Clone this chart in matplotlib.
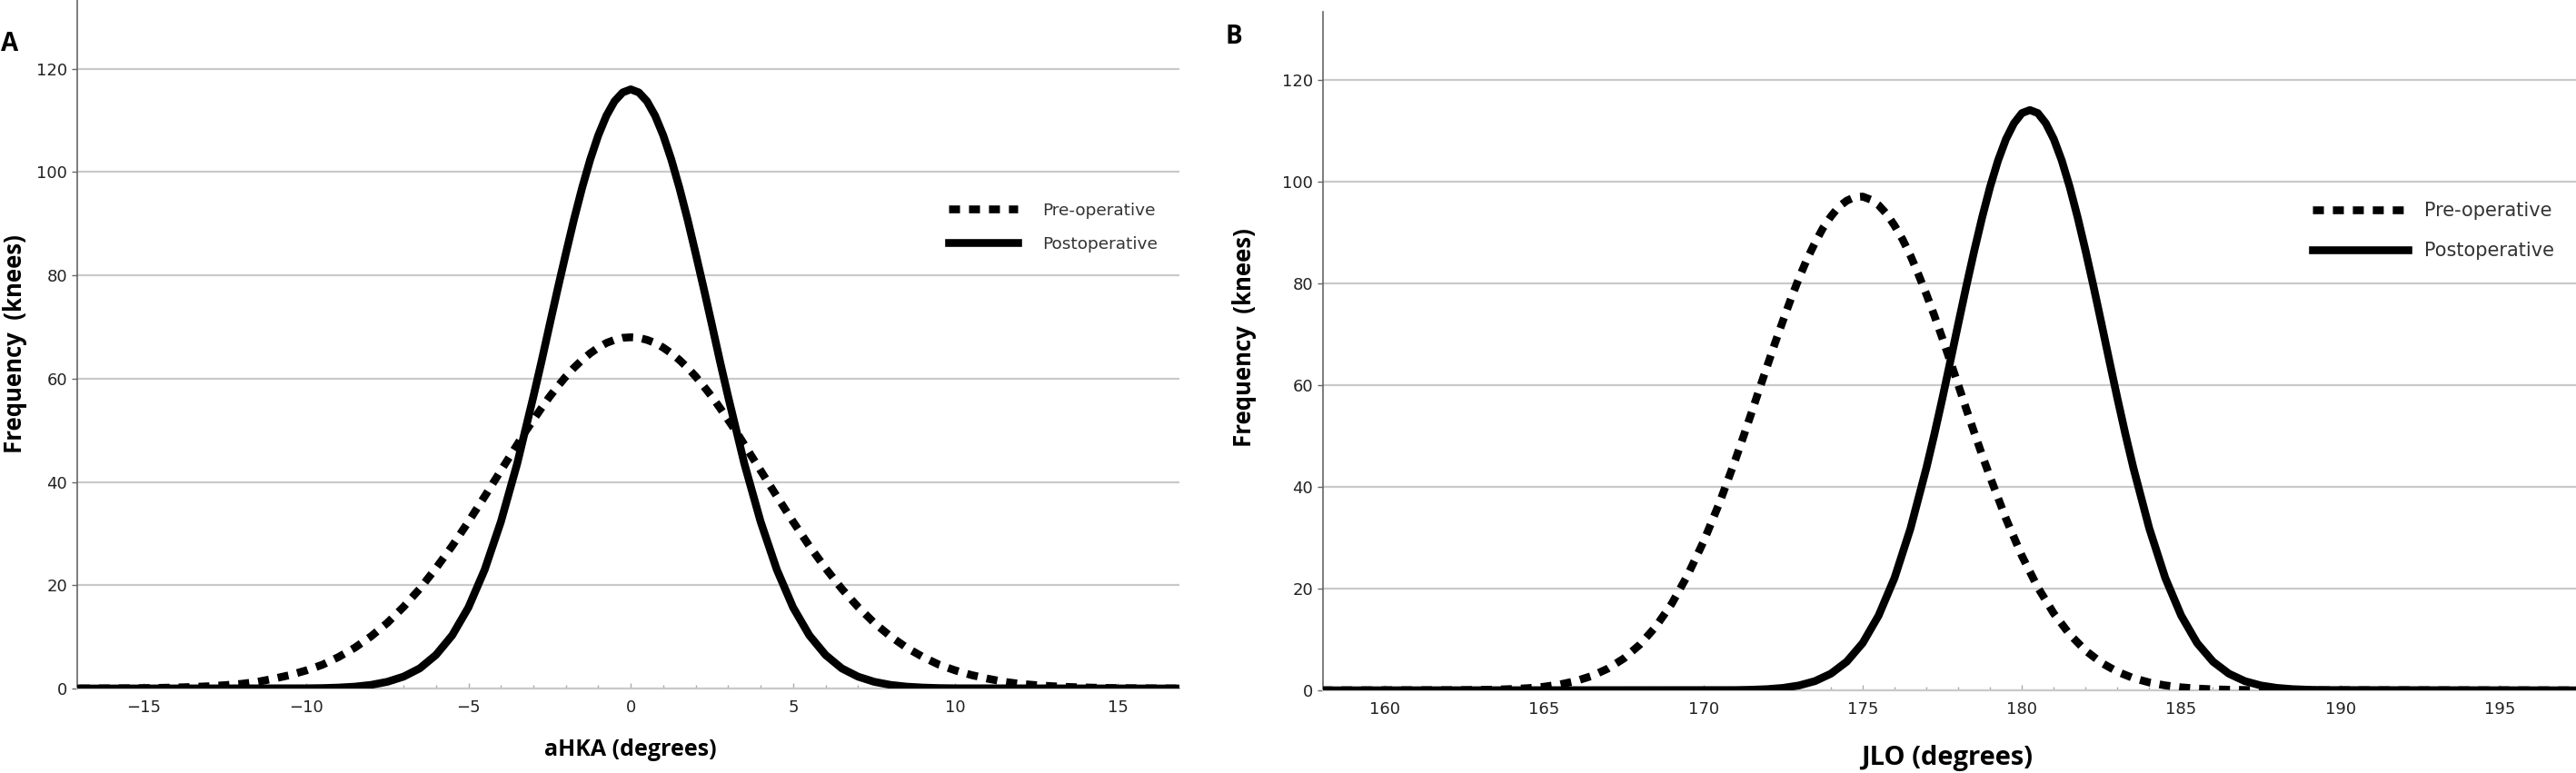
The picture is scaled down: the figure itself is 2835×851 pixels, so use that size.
import numpy as np
import matplotlib
matplotlib.use("Agg")
import matplotlib.pyplot as plt

# ---- panel A: aHKA (degrees), normal curves
# finer steps where the curves bend most
ahka_pre_x = np.r_[np.arange(-17, -4, 0.5), np.arange(-4, 4.01, 0.25), np.arange(4.5, 17.01, 0.5)]
ahka_pre = [0.01, 0.02, 0.03, 0.05, 0.08, 0.13, 0.2, 0.3, 0.44, 0.65, 0.9, 1.3, 1.9,
            2.6, 3.5, 4.6, 6.1, 7.9, 10.1, 12.7, 15.8, 19.3, 23.3, 27.6, 32.3, 37.2,
            42.2, 44.7, 47.2, 49.7, 52.0, 54.3, 56.5, 58.5, 60.4, 62.1, 63.6, 64.9, 66.0,
            66.9, 67.5, 67.9, 68.0, 67.9, 67.5, 66.9, 66.0, 64.9, 63.6, 62.1, 60.4, 58.5,
            56.5, 54.3, 52.0, 49.7, 47.2, 44.7, 42.2,
            37.2, 32.3, 27.6, 23.3, 19.3, 15.8, 12.7, 10.1, 7.9, 6.1, 4.6, 3.5, 2.6,
            1.9, 1.3, 0.9, 0.65, 0.44, 0.3, 0.2, 0.13, 0.08, 0.05, 0.03, 0.02, 0.01]

ahka_post_x = np.r_[-17, np.arange(-10, -3, 0.5), np.arange(-3, 3.01, 0.25), np.arange(3.5, 10.01, 0.5), 17]
ahka_post = [0,
             0.04, 0.08, 0.18, 0.36, 0.7, 1.3, 2.3, 3.9, 6.5, 10.3, 15.7, 23.0, 32.3, 43.5,
             56.5, 63.3, 70.4, 77.4, 84.2, 90.8, 96.9, 102.4, 107.1, 110.9, 113.7, 115.4,
             116.0, 115.4, 113.7, 110.9, 107.1, 102.4, 96.9, 90.8, 84.2, 77.4, 70.4, 63.3, 56.5,
             43.5, 32.3, 23.0, 15.7, 10.3, 6.5, 3.9, 2.3, 1.3, 0.7, 0.36, 0.18, 0.08, 0.04,
             0]

# ---- panel B: JLO (degrees)
jlo_pre_x = np.r_[158, np.arange(162, 171, 0.5), np.arange(171, 179.01, 0.25), np.arange(179.5, 188.01, 0.5), 197.5]
jlo_pre = [0,
           0.03, 0.05, 0.09, 0.15, 0.26, 0.43, 0.72, 1.17, 1.85, 2.84, 4.28, 6.27, 8.98,
           12.5, 17.0, 22.6, 29.2, 36.8,
           45.3, 49.8, 54.4, 59.1, 63.7, 68.3, 72.7, 77.0, 81.0, 84.7, 87.9, 90.8, 93.1,
           95.0, 96.2, 96.9, 97.0, 96.4, 95.3, 93.6, 91.3, 88.6, 85.4, 81.7, 77.8, 73.6,
           69.2, 64.6, 60.0, 55.3, 50.7, 46.2, 41.9,
           33.7, 26.4, 20.2, 15.1, 11.0, 7.8, 5.4, 3.65, 2.4, 1.55, 0.97, 0.59, 0.35,
           0.2, 0.12, 0.07, 0.04, 0.02,
           0]

jlo_post_x = np.r_[158, np.arange(171, 177, 0.5), np.arange(177, 183.51, 0.25), np.arange(184, 189.51, 0.5), 197.5]
jlo_post = [0,
            0.05, 0.11, 0.23, 0.48, 0.96, 1.81, 3.27, 5.64, 9.3, 14.7, 22.1, 31.8,
            43.7, 50.3, 57.3, 64.6, 72.0, 79.3, 86.3, 92.9, 98.9, 104.1, 108.3, 111.4,
            113.4, 114.0, 113.4, 111.4, 108.3, 104.1, 98.9, 92.9, 86.3, 79.3, 72.0, 64.6,
            57.3, 50.3, 43.7,
            31.8, 22.1, 14.7, 9.3, 5.64, 3.27, 1.81, 0.96, 0.48, 0.23, 0.11, 0.05,
            0]

series_names = ['Pre-operative', 'Postoperative']
y_ticks = [0, 20, 40, 60, 80, 100, 120]
ahka_ticks = [-15, -10, -5, 0, 5, 10, 15]
jlo_ticks = [160, 165, 170, 175, 180, 185, 190, 195]

W, H = 2835, 851
fig = plt.figure(figsize=(W / 100, H / 100), dpi=100)

lw = 6.2
dotted = (0, (1.4, 1.15))
grid_c = '#c9c9c9'


def panel(rect, xs, ys, xticks, xlim, xlabel, xlabel_size, letter, letter_xy,
          leg_anchor, leg_size, leg_hl, leg_pad, leg_space, ylab_xy, xlab_xy):
    ax = fig.add_axes(rect)
    ax.plot(xs[0], ys[0], color='black', lw=lw, ls=dotted, dash_capstyle='butt',
            dash_joinstyle='round', label=series_names[0], zorder=3)
    ax.plot(xs[1], ys[1], color='black', lw=lw, solid_joinstyle='round',
            label=series_names[1], zorder=3)
    ax.set_xlim(*xlim)
    ax.set_ylim(0, 133.3)
    ax.set_yticks(y_ticks)
    ax.set_xticks(xticks)
    ax.set_xticks(np.arange(np.ceil(xlim[0]), xlim[1], 1), minor=True)
    ax.grid(axis='y', color=grid_c, lw=1.6, zorder=0)
    ax.set_axisbelow(True)
    for s in ['top', 'right']:
        ax.spines[s].set_visible(False)
    ax.spines['left'].set_color('#666666')
    ax.spines['left'].set_linewidth(1.2)
    ax.spines['bottom'].set_color(grid_c)
    ax.spines['bottom'].set_linewidth(1.6)
    ax.tick_params(axis='y', length=4, width=1, color='#666666', labelsize=13,
                   labelcolor='#222222', pad=4)
    ax.tick_params(axis='x', which='major', length=4, width=1, color='#aaaaaa',
                   labelsize=13, labelcolor='#222222', pad=9, direction='in')
    ax.tick_params(axis='x', which='minor', length=3, width=1, color='#aaaaaa',
                   direction='in')
    ax.set_ylabel('Frequency  (knees)', fontsize=18.5, fontweight='bold',
                  family='Open Sans')
    ax.yaxis.set_label_coords(*ylab_xy)
    ax.set_xlabel(xlabel, fontsize=xlabel_size, fontweight='bold', family='Open Sans')
    ax.xaxis.set_label_coords(*xlab_xy)
    fig.text(letter_xy[0], letter_xy[1], letter, fontsize=20, fontweight='bold',
             family='Open Sans', ha='center', va='center')
    leg = ax.legend(loc='center left', bbox_to_anchor=leg_anchor, frameon=False,
                    fontsize=leg_size, handlelength=leg_hl, handletextpad=leg_pad,
                    labelspacing=leg_space, borderaxespad=0, borderpad=0)
    for t in leg.get_texts():
        t.set_color('#333333')
    return ax


panel([85 / W, 1 - 758 / H, (1298 - 85) / W, 758 / H],
      (ahka_pre_x, ahka_post_x), (ahka_pre, ahka_post), ahka_ticks, (-17.05, 16.9),
      'aHKA (degrees)', 18, 'A', (11 / W, 1 - 49 / H),
      (0.791, 0.670), 13.3, 4.1, 1.45, 1.03, (-0.045, 0.50), (0.502, -0.072))

panel([1456 / W, 1 - 760 / H, (W - 1456) / W, 747 / H],
      (jlo_pre_x, jlo_post_x), (jlo_pre, jlo_post), jlo_ticks, (158.05, 197.4),
      'JLO (degrees)', 21, 'B', (1358 / W, 1 - 40 / H),
      (0.790, 0.677), 15, 5.0, 0.9, 1.14, (-0.053, 0.52), (0.498, -0.080))

fig.savefig('out.png', dpi=100)
